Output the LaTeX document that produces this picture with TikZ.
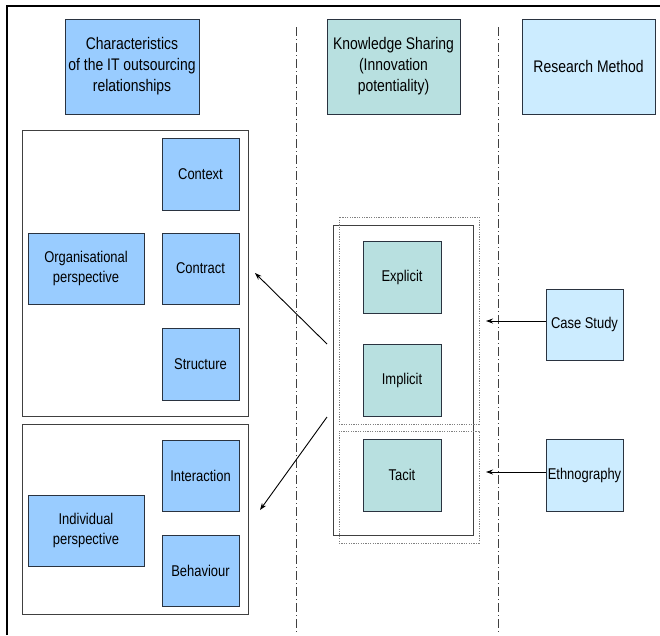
\documentclass[tikz,border=0pt]{standalone}
\usepackage{fontspec}
\setmainfont[FakeStretch=0.83]{Liberation Sans}
\usetikzlibrary{arrows.meta}

\definecolor{charblue}{HTML}{99CCFF}
\definecolor{kshare}{HTML}{B8E0E0}
\definecolor{method}{HTML}{CCECFF}
\definecolor{boxline}{HTML}{2A3340}
\definecolor{groupline}{HTML}{404040}

\tikzset{
  x=1pt, y=-1pt,
  cell/.style={rectangle, draw=boxline, line width=0.8pt, inner sep=1pt,
    align=center, font=\fontsize{15.6}{20}\selectfont},
  header/.style={cell, font=\fontsize{16.8}{21}\selectfont},
  charbox/.style={cell, fill=charblue},
  knowbox/.style={cell, fill=kshare},
  methbox/.style={cell, fill=method},
  group/.style={rectangle, draw=groupline, line width=0.8pt, inner sep=0pt},
  dotgroup/.style={rectangle, draw=gray, line width=0.6pt,
    dash pattern=on 1.2pt off 1.2pt, inner sep=0pt},
  divider/.style={draw=black!75, line width=0.8pt,
    dash pattern=on 9pt off 3pt on 1pt off 3pt},
  link/.style={draw=black, line width=0.9pt, -{Stealth[length=7pt,width=5pt]}},
}

\begin{document}
\begin{tikzpicture}
\useasboundingbox (0,0) rectangle (660,635);

% frame edges
\draw[line width=1.5pt] (7,635) -- (7,6) -- (660,6);

% column dividers
\draw[divider] (296,27) -- (296,635);
\draw[divider] (498,27) -- (498,635);

% column headers
\node[header, fill=charblue, minimum width=134, minimum height=95] (hchar) at (132,66.5)
  {Characteristics\\of the IT outsourcing\\relationships};
\node[header, fill=kshare, minimum width=133, minimum height=95] (hknow) at (393.5,66.5)
  {Knowledge Sharing\\(Innovation\\potentiality)};
\node[header, fill=method, minimum width=133, minimum height=95] (hmeth) at (588.5,66.5)
  {Research Method};

% organisational group
\node[group, minimum width=226, minimum height=286] (orggroup) at (135,273) {};
\node[charbox, minimum width=77, minimum height=72] (context) at (200.5,174) {Context};
\node[charbox, minimum width=116, minimum height=71] (org) at (86,268.5) {Organisational\\perspective};
\node[charbox, minimum width=77, minimum height=71] (contract) at (200.5,268.5) {Contract};
\node[charbox, minimum width=77, minimum height=72] (structure) at (200.5,364) {Structure};

% individual group
\node[group, minimum width=226, minimum height=190] (indgroup) at (135,519) {};
\node[charbox, minimum width=77, minimum height=71] (interaction) at (200.5,475.5) {Interaction};
\node[charbox, minimum width=116, minimum height=71] (individual) at (86,530.5) {Individual\\perspective};
\node[charbox, minimum width=77, minimum height=71] (behaviour) at (200.5,570.5) {Behaviour};

% knowledge sharing group
\node[group, minimum width=140, minimum height=310] (knowgroup) at (403,380) {};
\node[dotgroup, minimum width=140, minimum height=207] (upperdots) at (409,320.5) {};
\node[dotgroup, minimum width=140, minimum height=112] (lowerdots) at (409,487) {};
\node[knowbox, minimum width=78, minimum height=72] (explicit) at (402,277) {Explicit};
\node[knowbox, minimum width=78, minimum height=72] (implicit) at (402,380) {Implicit};
\node[knowbox, minimum width=78, minimum height=72] (tacit) at (402,475) {Tacit};

% research methods
\node[methbox, minimum width=77, minimum height=71] (casestudy) at (584.5,324.5) {Case Study};
\node[methbox, minimum width=77, minimum height=72] (ethno) at (584.5,475) {Ethnography};

% connector ends
\coordinate (upstart) at (327,344);
\coordinate (upend) at (255,273);
\coordinate (downstart) at (327,417);
\coordinate (downend) at (260,510);
\coordinate (casestart) at (casestudy.west |- 0,321);
\coordinate (caseend) at (486,321);
\coordinate (ethnostart) at (ethno.west |- 0,472);
\coordinate (ethnoend) at (486,472);

% connectors
\draw[link] (upstart) -- (upend);
\draw[link] (downstart) -- (downend);
\draw[link] (casestart) -- (caseend);
\draw[link] (ethnostart) -- (ethnoend);
\end{tikzpicture}
\end{document}
